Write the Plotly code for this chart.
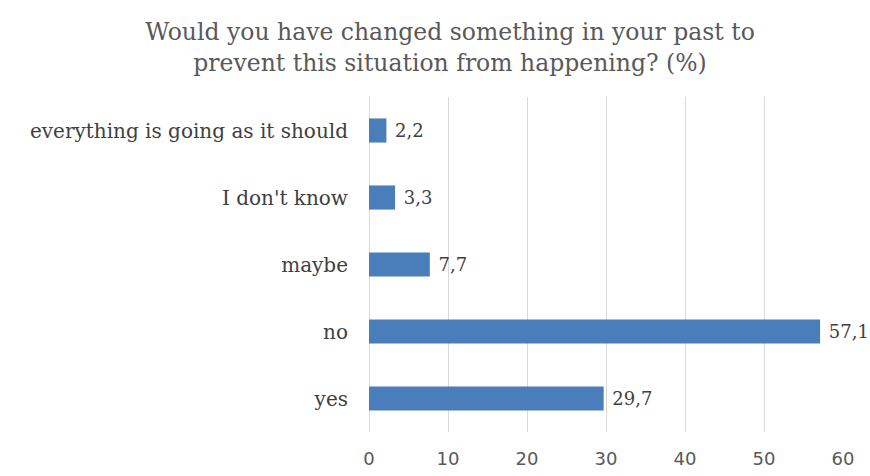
import plotly.graph_objects as go

categories = ["yes", "no", "maybe", "I don't know", "everything is going as it should"]
values = [29.7, 57.1, 7.7, 3.3, 2.2]
labels = [" " + f"{v:.1f}".replace(".", ",") for v in values]
x_ticks = [0, 10, 20, 30, 40, 50, 60]

title_text = "Would you have changed something in your past to<br>prevent this situation from happening? (%)"

fig = go.Figure()
fig.add_trace(go.Bar(
    y=categories, x=values, orientation="h",
    marker=dict(color="#4A7EBB", line=dict(width=0)),
    text=labels, textposition="outside",
    textfont=dict(family="DejaVu Serif", size=18, color="#404040"),
    cliponaxis=False,
))

fig.update_layout(
    width=870, height=476,
    margin=dict(l=369, r=27, t=97, b=44, autoexpand=False),
    paper_bgcolor="white", plot_bgcolor="white",
    bargap=0.64,
    showlegend=False,
    title=dict(
        text=title_text,
        x=450 / 870, xanchor="center", xref="container",
        y=1 - 40 / 476, yanchor="top", yref="container",
        font=dict(family="DejaVu Serif", size=23.5, color="#595959"),
    ),
    xaxis=dict(
        range=[0, 60], tickvals=x_ticks, ticktext=[str(t) for t in x_ticks],
        showgrid=True, gridcolor="#D9D9D9", gridwidth=1,
        zeroline=True, zerolinecolor="#D9D9D9", zerolinewidth=1,
        showline=False, ticks="",
        ticklabelstandoff=14,
        tickfont=dict(family="DejaVu Sans", size=18, color="#595959"),
        fixedrange=True, automargin=False,
    ),
    yaxis=dict(
        showgrid=False, showline=False, ticks="",
        ticklabelstandoff=20,
        tickfont=dict(family="DejaVu Serif", size=20, color="#404040"),
        fixedrange=True, automargin=False,
    ),
)

fig.write_html("out.html")
